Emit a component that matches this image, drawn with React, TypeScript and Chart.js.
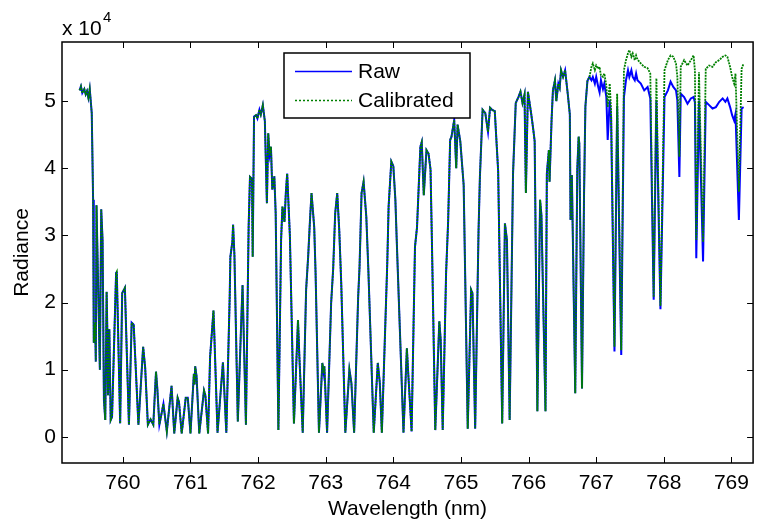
import React, { useEffect, useRef } from "react";
import { Chart, registerables } from "chart.js";

Chart.register(...registerables);

// Wavelength (nm)
const wavelength: number[] = [
  759.36, 759.38, 759.40, 759.43, 759.45, 759.47, 759.49, 759.51, 759.54, 759.56,
  759.57, 759.59, 759.60, 759.61, 759.66, 759.68, 759.70, 759.72, 759.74, 759.76,
  759.77, 759.78, 759.80, 759.82, 759.84, 759.90, 759.91, 759.96, 759.99, 760.03,
  760.09, 760.13, 760.16, 760.23, 760.30, 760.33, 760.37, 760.41, 760.45, 760.49,
  760.51, 760.54, 760.60, 760.65, 760.72, 760.76, 760.81, 760.83, 760.87, 760.93,
  760.96, 761.00, 761.05, 761.06, 761.07, 761.09, 761.13, 761.20, 761.22, 761.26,
  761.29, 761.32, 761.34, 761.35, 761.40, 761.48, 761.53, 761.58, 761.59, 761.62,
  761.63, 761.65, 761.70, 761.75, 761.77, 761.82, 761.86, 761.88, 761.91, 761.92,
  761.94, 761.97, 761.99, 762.02, 762.04, 762.07, 762.10, 762.13, 762.15, 762.17,
  762.19, 762.21, 762.24, 762.26, 762.30, 762.34, 762.36, 762.39, 762.41, 762.43,
  762.47, 762.53, 762.59, 762.61, 762.66, 762.71, 762.74, 762.77, 762.79, 762.83,
  762.85, 762.90, 762.95, 762.97, 762.98, 763.02, 763.08, 763.11, 763.14, 763.17,
  763.20, 763.23, 763.29, 763.35, 763.38, 763.42, 763.48, 763.50, 763.53, 763.56,
  763.60, 763.63, 763.71, 763.77, 763.80, 763.83, 763.91, 763.93, 763.97, 764.00,
  764.03, 764.05, 764.15, 764.20, 764.22, 764.27, 764.32, 764.35, 764.40, 764.42,
  764.45, 764.49, 764.52, 764.55, 764.57, 764.62, 764.68, 764.70, 764.73, 764.78,
  764.81, 764.84, 764.86, 764.90, 764.93, 764.95, 764.99, 765.04, 765.10, 765.15,
  765.17, 765.21, 765.26, 765.28, 765.32, 765.36, 765.40, 765.43, 765.46, 765.50,
  765.55, 765.61, 765.65, 765.68, 765.72, 765.77, 765.81, 765.85, 765.88, 765.91,
  765.94, 765.96, 765.99, 766.04, 766.07, 766.09, 766.13, 766.17, 766.19, 766.25,
  766.27, 766.30, 766.31, 766.34, 766.36, 766.39, 766.41, 766.44, 766.46, 766.48,
  766.51, 766.54, 766.58, 766.61, 766.62, 766.64, 766.69, 766.72, 766.74, 766.75,
  766.79, 766.82, 766.84, 766.87, 766.90,
  766.93, 766.95, 766.98, 767.00, 767.03, 767.05, 767.07, 767.10, 767.12, 767.15,
  767.17, 767.20, 767.22, 767.27, 767.31, 767.37, 767.41, 767.44, 767.47, 767.49,
  767.52, 767.54, 767.57, 767.59, 767.61, 767.66, 767.71, 767.76, 767.80, 767.85,
  767.89, 767.95, 768.01, 768.06, 768.10, 768.14, 768.18, 768.20, 768.23, 768.25,
  768.30, 768.35, 768.40, 768.44, 768.46, 768.48, 768.52, 768.58, 768.62, 768.67,
  768.72, 768.77, 768.82, 768.87, 768.91, 768.94, 768.98, 769.01, 769.04, 769.06,
  769.11, 769.15, 769.18,
];

// Raw radiance
const raw: number[] = [
  51600, 52200, 51200, 51800, 51000, 51500, 50500, 51800, 48200, 35300,
  14000, 16900, 11200, 34500, 10000, 33900, 29300, 5500, 2500, 21600,
  16000, 6200, 16000, 2500, 3000, 24400, 24600, 2000, 21400, 22200,
  1800, 17000, 16700, 1800, 13400, 10300, 1800, 2600, 1800, 9700,
  7100, 1800, 4900, 800, 7600, 500, 5800, 5200, 500, 5800,
  5800, 500, 9400, 7800, 10500, 9000, 500, 6900, 6200, 500,
  11900, 16000, 18800, 16000, 600, 11100, 600, 20900, 26800, 29100,
  31600, 27000, 2300, 17000, 22600, 1800, 31300, 38700, 38400, 26800,
  47700, 47900, 47400, 48700, 48000, 49400, 47000, 34800, 45200, 42000,
  43200, 36800, 38800, 33300, 1000, 29300, 34300, 32000, 36300, 39200,
  29900, 2000, 17400, 12000, 600, 21900, 26800, 32800, 36300, 31200,
  24400, 600, 11000, 9500, 10500, 600, 19900, 25000, 33300, 36300,
  30800, 22700, 600, 10000, 8000, 600, 20900, 25300, 36300, 38000,
  32800, 25000, 600, 11000, 8000, 600, 25800, 34300, 41000, 40300,
  35300, 29300, 600, 13200, 9500, 800, 28300, 31200, 43200, 43900,
  36000, 42700, 42200, 39800, 29300, 1000, 17200, 14500, 1000, 24400,
  32000, 44200, 44700, 47200, 40000, 46500, 44000, 37500, 1200, 21900,
  21400, 1200, 30700, 38700, 48700, 48200, 45400, 49000, 48700, 48500,
  39600, 2000, 31800, 29300, 2500, 39200, 49700, 50600, 51400, 49700,
  51000, 36300, 51400, 48000, 45700, 44000, 3800, 35300, 33000, 3800,
  39200, 42700, 38000, 47200, 51600, 53100, 50000, 52600, 52000, 54600,
  53600, 54600, 51000, 48000, 32300, 39000, 6500, 39800, 44700, 43700,
  7200, 36000, 49200, 53000, 53600,
  53100, 53600, 52600, 53600, 52100, 51300, 53100, 51800, 52600, 50600,
  44200, 50100, 47600, 12700, 49300, 12200, 50600, 53100, 54600, 53600,
  54600, 53600, 53100, 54100, 53100, 52600, 51600, 52100, 50400, 20400,
  50100, 19000, 50600, 51600, 52900, 52100, 51600, 50100, 38700, 51100,
  50600, 49600, 50400, 50600, 49800, 26600, 50100, 26100, 49900, 49400,
  48900, 49100, 49900, 50400, 49900, 50400, 49100, 47900, 47100, 48100,
  32300, 48900, 49100,
];

// Calibrated radiance
const calibrated: number[] = [
  51600, 52200, 51200, 51800, 51000, 51500, 50500, 51800, 48200, 35300,
  14000, 16900, 11200, 34500, 10000, 33900, 29300, 5500, 2500, 21600,
  16000, 6200, 16000, 2500, 3000, 24400, 24600, 2000, 21400, 22200,
  1800, 17000, 16700, 1800, 13400, 10300, 1800, 2600, 1800, 9700,
  7100, 1800, 4900, 800, 7600, 500, 5800, 5200, 500, 5800,
  5800, 500, 9400, 7800, 10500, 9000, 500, 6900, 6200, 500,
  11900, 16000, 18800, 16000, 600, 11100, 600, 20900, 26800, 29100,
  31600, 27000, 2300, 17000, 22600, 1800, 31300, 38700, 38400, 26800,
  47700, 47900, 47400, 48700, 48000, 49400, 47000, 34800, 45200, 42000,
  43200, 36800, 38800, 33300, 1000, 29300, 34300, 32000, 36300, 39200,
  29900, 2000, 17400, 12000, 600, 21900, 26800, 32800, 36300, 31200,
  24400, 600, 11000, 9500, 10500, 600, 19900, 25000, 33300, 36300,
  30800, 22700, 600, 10000, 8000, 600, 20900, 25300, 36300, 38000,
  32800, 25000, 600, 11000, 8000, 600, 25800, 34300, 41000, 40300,
  35300, 29300, 600, 13200, 9500, 800, 28300, 31200, 43200, 43900,
  36000, 42700, 42200, 39800, 29300, 1000, 17200, 14500, 1000, 24400,
  32000, 44200, 44700, 47200, 40000, 46500, 44000, 37500, 1200, 21900,
  21400, 1200, 30700, 38700, 48700, 48200, 45400, 49000, 48700, 48500,
  39600, 2000, 31800, 29300, 2500, 39200, 49700, 50600, 51400, 49700,
  51000, 36300, 51400, 48000, 45700, 44000, 3800, 35300, 33000, 3800,
  39200, 42700, 38000, 47200, 51600, 53100, 50000, 52600, 52000, 54600,
  53600, 54600, 51000, 48000, 32300, 39000, 6500, 39800, 44700, 43700,
  7200, 36000, 49200, 53000, 53600,
  55100, 55600, 54600, 55300, 54800, 55100, 53800, 53600, 54100, 52300,
  49100, 52600, 48600, 13400, 51100, 12900, 54600, 56100, 57100, 57600,
  56600, 57100, 56100, 56800, 56200, 55600, 55100, 54900, 54100, 20800,
  53400, 19500, 54600, 56100, 56800, 56600, 55600, 53600, 41700, 55100,
  56100, 55300, 56100, 56800, 54500, 29300, 54300, 29000, 54800, 55300,
  55100, 55800, 56100, 56600, 56800, 56600, 55100, 53600, 52600, 54100,
  36500, 54800, 55600,
];

const xTicks: number[] = [760, 761, 762, 763, 764, 765, 766, 767, 768, 769];
const yTicks: number[] = [0, 10000, 20000, 30000, 40000, 50000];
const yTickLabels: string[] = ["0", "1", "2", "3", "4", "5"];
const seriesNames: string[] = ["Raw", "Calibrated"];
const xTitle = "Wavelength (nm)";
const yTitle = "Radiance";

const FONT = '"Liberation Sans", Arial, Helvetica, sans-serif';
const BLUE = "#0000ff";
const GREEN = "#008000";

const decorPlugin = {
  id: "decor",
  afterDraw(chart: any) {
    const { ctx, chartArea: a, scales } = chart;
    ctx.save();
    // axes box
    ctx.strokeStyle = "#000";
    ctx.lineWidth = 1.5;
    ctx.strokeRect(a.left, a.top, a.right - a.left, a.bottom - a.top);
    // inward ticks
    ctx.lineWidth = 1;
    const tl = 6;
    for (const v of xTicks) {
      const x = Math.round(scales.x.getPixelForValue(v)) + 0.5;
      ctx.beginPath();
      ctx.moveTo(x, a.bottom);
      ctx.lineTo(x, a.bottom - tl);
      ctx.moveTo(x, a.top);
      ctx.lineTo(x, a.top + tl);
      ctx.stroke();
    }
    for (const v of yTicks) {
      const y = Math.round(scales.y.getPixelForValue(v)) + 0.5;
      ctx.beginPath();
      ctx.moveTo(a.left, y);
      ctx.lineTo(a.left + tl, y);
      ctx.moveTo(a.right, y);
      ctx.lineTo(a.right - tl, y);
      ctx.stroke();
    }
    // exponent label
    ctx.fillStyle = "#000";
    ctx.textBaseline = "alphabetic";
    ctx.textAlign = "left";
    ctx.font = `21px ${FONT}`;
    ctx.fillText("x 10", 62, 35);
    ctx.font = `15px ${FONT}`;
    ctx.fillText("4", 103, 22);
    // axis titles
    ctx.font = `21px ${FONT}`;
    ctx.textAlign = "center";
    ctx.textBaseline = "middle";
    ctx.fillText(xTitle, (a.left + a.right) / 2, 509);
    ctx.save();
    ctx.translate(22, (a.top + a.bottom) / 2);
    ctx.rotate(-Math.PI / 2);
    ctx.fillText(yTitle, 0, 0);
    ctx.restore();
    // legend
    const lx = 284, ly = 53, lw = 186, lh = 65;
    ctx.fillStyle = "#fff";
    ctx.fillRect(lx, ly, lw, lh);
    ctx.strokeStyle = "#000";
    ctx.lineWidth = 1.5;
    ctx.strokeRect(lx, ly, lw, lh);
    const rows = [
      { y: 71, color: BLUE, dash: [] as number[] },
      { y: 100, color: GREEN, dash: [2, 2] },
    ];
    rows.forEach((r, i) => {
      ctx.strokeStyle = r.color;
      ctx.lineWidth = 1.5;
      ctx.setLineDash(r.dash);
      ctx.beginPath();
      ctx.moveTo(295, r.y + 0.5);
      ctx.lineTo(352, r.y + 0.5);
      ctx.stroke();
      ctx.setLineDash([]);
      ctx.fillStyle = "#000";
      ctx.textAlign = "left";
      ctx.textBaseline = "middle";
      ctx.font = `21px ${FONT}`;
      ctx.fillText(seriesNames[i], 358, r.y + 1);
    });
    ctx.restore();
  },
};

export default function App() {
  const ref = useRef<HTMLCanvasElement | null>(null);
  useEffect(() => {
    if (!ref.current) return;
    const rawPts = wavelength.map((w, i) => ({ x: w, y: raw[i] }));
    const calPts = wavelength.map((w, i) => ({ x: w, y: calibrated[i] }));
    const chart = new Chart(ref.current, {
      type: "line",
      data: {
        datasets: [
          {
            label: seriesNames[0],
            data: rawPts,
            borderColor: BLUE,
            borderWidth: 2,
            pointRadius: 0,
            tension: 0,
            fill: false,
            order: 2,
          },
          {
            label: seriesNames[1],
            data: calPts,
            borderColor: GREEN,
            borderWidth: 1.8,
            borderDash: [2, 1],
            pointRadius: 0,
            tension: 0,
            fill: false,
            order: 1,
          },
        ],
      },
      options: {
        responsive: false,
        animation: false,
        devicePixelRatio: 1,
        layout: { padding: { top: 42, right: 1, left: 0, bottom: 0 } },
        plugins: {
          legend: { display: false },
          tooltip: { enabled: false },
          title: { display: false },
        },
        scales: {
          x: {
            type: "linear",
            min: 759.1,
            max: 769.32,
            grid: { display: false, drawTicks: false },
            border: { display: false },
            afterBuildTicks: (s: any) => {
              s.ticks = xTicks.map((v) => ({ value: v }));
            },
            afterFit: (s: any) => {
              s.height = 59;
            },
            ticks: {
              padding: 8,
              color: "#000",
              font: { family: FONT, size: 21 },
              maxRotation: 0,
              autoSkip: false,
              callback: (v: any) => String(v),
            },
          },
          y: {
            type: "linear",
            min: -3900,
            max: 58800,
            grid: { display: false, drawTicks: false },
            border: { display: false },
            afterBuildTicks: (s: any) => {
              s.ticks = yTicks.map((v) => ({ value: v }));
            },
            afterFit: (s: any) => {
              s.width = 62;
            },
            ticks: {
              padding: 6,
              color: "#000",
              font: { family: FONT, size: 21 },
              autoSkip: false,
              callback: (v: any) => {
                const idx = yTicks.indexOf(v);
                return idx >= 0 ? yTickLabels[idx] : "";
              },
            },
          },
        },
      },
      plugins: [decorPlugin],
    });
    return () => chart.destroy();
  }, []);
  return (
    <div style={{ position: "absolute", left: 0, top: 0, width: 757, height: 522, background: "#fff" }}>
      <canvas ref={ref} width={757} height={522} style={{ width: 757, height: 522 }} />
    </div>
  );
}
